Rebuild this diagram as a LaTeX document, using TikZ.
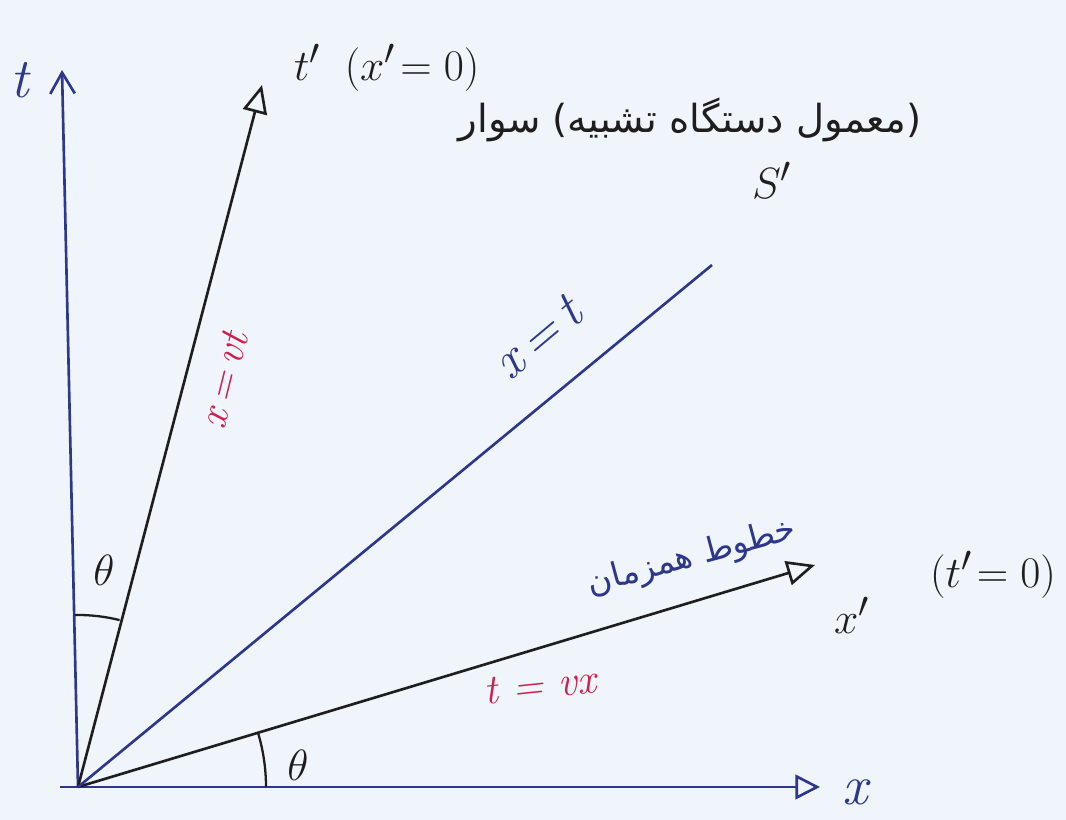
\documentclass[tikz,border=0pt]{standalone}
\usepackage{fontspec}
\usetikzlibrary{arrows.meta}
\TeXXeTstate=1
\newfontfamily\arabicfont[Script=Arabic]{DejaVu Sans}
\definecolor{paper}{RGB}{240,245,251}
\definecolor{axisblue}{RGB}{45,55,140}
\definecolor{inkred}{RGB}{210,30,75}
\definecolor{ink}{RGB}{30,30,30}
\begin{document}
\begin{tikzpicture}[x=0.02cm,y=0.02cm,
  blueaxis/.style={draw=axisblue,line width=1.5pt},
  blackaxis/.style={draw=ink,line width=1.5pt},
  redlbl/.style={text=inkred,font=\fontsize{24}{28}\selectfont\itshape},
  bluelbl/.style={text=axisblue,font=\fontsize{32}{36}\selectfont\itshape},
  blacklbl/.style={text=ink,font=\fontsize{32}{36}\selectfont},
  anglearc/.style={draw=ink,line width=1.3pt},
  pt/.style={inner sep=0pt,minimum size=0pt}]
\fill[paper] (0,0) rectangle (1066,820);
\useasboundingbox (0,0) rectangle (1066,820);
% points
\coordinate (O) at (78,33);
\coordinate (ttop) at (62,750);
\coordinate (tptop) at (262,735);
\coordinate (xtend) at (712,555);
\coordinate (xstart) at (60,33);
\coordinate (xend) at (820,33);
\coordinate (xpend) at (815,255);
% axes
\draw[blueaxis,-{Straight Barb[length=12pt,width=14pt]}] (O) -- (ttop);
\draw[blueaxis,-{Triangle[open,length=14pt,width=14pt]}] (xstart) -- (xend);
\draw[blackaxis,-{Triangle[open,length=16pt,width=14pt]}] (O) -- (tptop);
\draw[blackaxis,-{Triangle[open,length=16pt,width=14pt]}] (O) -- (xpend);
\draw[blueaxis] (O) -- (xtend);
% angle arcs
\draw[anglearc] (O) ++(91:172) arc (91:76:172);
\draw[anglearc] (O) ++(0:188) arc (0:16.5:188);
% axis labels
\node[bluelbl,inner sep=1pt] (tlbl) at (20,740) {t};
\node[bluelbl,inner sep=1pt] (xlbl) at (855,28) {x};
\node[blacklbl,anchor=west,inner sep=1pt] (tplbl) at (292,752) {$t'\;\;(x'\!=0)$};
\node[blacklbl,anchor=west,inner sep=1pt] (xplbl) at (832,205) {$x'$};
\node[blacklbl,anchor=west,inner sep=1pt] (tp0lbl) at (928,245) {$(t'\!=0)$};
% line labels
\node[redlbl,rotate=76,inner sep=0pt] (xvt) at (224,440) {x\,=\,vt};
\node[bluelbl,font=\fontsize{30}{34}\selectfont\itshape,rotate=40,inner sep=0pt] (xeqt) at (538,482) {x\,=\,t};
\node[redlbl,rotate=6,inner sep=0pt] (tvx) at (540,134) {t = vx};
% theta
\node[blacklbl,font=\fontsize{26}{30}\selectfont,inner sep=1pt] (th1) at (104,250) {$\theta$};
\node[blacklbl,font=\fontsize{26}{30}\selectfont,inner sep=1pt] (th2) at (298,55) {$\theta$};
% Persian notes
\node[text=ink,font=\arabicfont\fontsize{22}{26}\selectfont,inner sep=1pt] (note) at (690,700) {\beginR(معمول دستگاه تشبیه) سوار\endR};
\node[blacklbl,font=\fontsize{28}{32}\selectfont,inner sep=1pt] (sp) at (772,640) {$S'$};
\node[text=axisblue,font=\arabicfont\fontsize{19}{23}\selectfont,rotate=15,inner sep=1pt] (simul) at (692,262) {\beginR خطوط همزمان\endR};
\end{tikzpicture}
\end{document}
